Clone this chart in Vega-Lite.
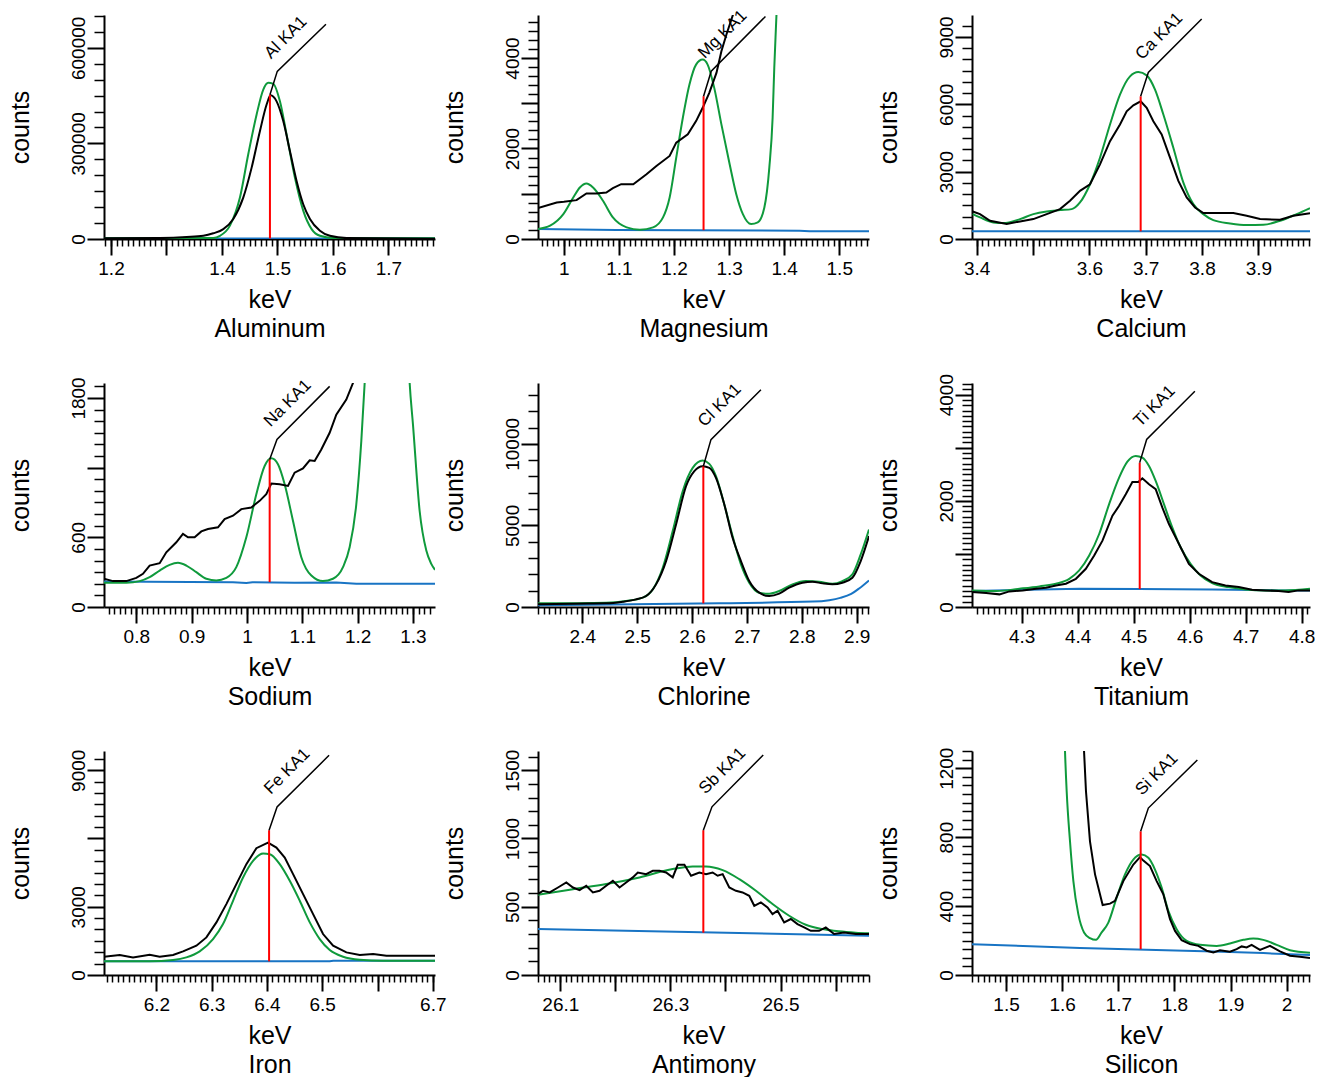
{
  "$schema": "https://vega.github.io/schema/vega-lite/v6.json",
  "description": "XRF peak fits, nine elements",
  "autosize": {"type": "pad"},
  "padding": {"left": 8, "top": 6, "right": 0, "bottom": 0},
  "background": "white",
  "columns": 3,
  "spacing": {"row": 144, "column": 96},
  "bounds": "flush",
  "align": "all",
  "datasets": {
    "al": [
      {"s":"b","e":1.1874,"c":1500},{"s":"b","e":1.784,"c":1500},
      {"s":"f","e":1.1874,"c":2000},{"s":"f","e":1.3844,"c":3000},{"s":"f","e":1.3964,"c":10000},{"s":"f","e":1.4144,"c":42000},{"s":"f","e":1.4324,"c":130000},{"s":"f","e":1.4474,"c":266000},{"s":"f","e":1.4625,"c":391000},{"s":"f","e":1.4745,"c":469000},{"s":"f","e":1.4835,"c":490000},{"s":"f","e":1.4925,"c":487000},{"s":"f","e":1.5045,"c":432000},{"s":"f","e":1.5165,"c":328000},{"s":"f","e":1.5315,"c":193000},{"s":"f","e":1.5465,"c":89000},{"s":"f","e":1.5616,"c":31000},{"s":"f","e":1.5766,"c":10000},{"s":"f","e":1.6006,"c":3000},{"s":"f","e":1.784,"c":2000},
      {"s":"m","e":1.1874,"c":2000},{"s":"m","e":1.2883,"c":3000},{"s":"m","e":1.3363,"c":6000},{"s":"m","e":1.3664,"c":10000},{"s":"m","e":1.3844,"c":18000},{"s":"m","e":1.4024,"c":31000},{"s":"m","e":1.4204,"c":63000},{"s":"m","e":1.4384,"c":130000},{"s":"m","e":1.4535,"c":224000},{"s":"m","e":1.4685,"c":339000},{"s":"m","e":1.4805,"c":422000},{"s":"m","e":1.4877,"c":451000},{"s":"m","e":1.4985,"c":432000},{"s":"m","e":1.5105,"c":370000},{"s":"m","e":1.5225,"c":276000},{"s":"m","e":1.5345,"c":182000},{"s":"m","e":1.5465,"c":109000},{"s":"m","e":1.5586,"c":63000},{"s":"m","e":1.5766,"c":26000},{"s":"m","e":1.5946,"c":10000},{"s":"m","e":1.6246,"c":3000},{"s":"m","e":1.784,"c":1000},
      {"s":"r","e":1.4865,"c":1500,"c2":453000},
      {"s":"a","e":1.4865,"c":453000},{"s":"a","e":1.4997,"c":526000},{"s":"a","e":1.5874,"c":674000},
      {"s":"t","e":1.4997,"c":526000,"lab":"Al KA1"}
    ],
    "mg": [
      {"s":"b","e":0.953,"c":220},{"s":"b","e":1.095,"c":198},{"s":"b","e":1.428,"c":183},{"s":"b","e":1.446,"c":169},{"s":"b","e":1.554,"c":169},
      {"s":"f","e":0.953,"c":220},{"s":"f","e":0.975,"c":294},{"s":"f","e":0.999,"c":550},{"s":"f","e":1.017,"c":917},{"s":"f","e":1.029,"c":1138},{"s":"f","e":1.041,"c":1226},{"s":"f","e":1.053,"c":1138},{"s":"f","e":1.071,"c":844},{"s":"f","e":1.089,"c":477},{"s":"f","e":1.114,"c":257},{"s":"f","e":1.138,"c":205},{"s":"f","e":1.162,"c":257},{"s":"f","e":1.18,"c":477},{"s":"f","e":1.192,"c":917},{"s":"f","e":1.204,"c":1798},{"s":"f","e":1.216,"c":2679},{"s":"f","e":1.228,"c":3413},{"s":"f","e":1.24,"c":3854},{"s":"f","e":1.252,"c":3964},{"s":"f","e":1.261,"c":3854},{"s":"f","e":1.273,"c":3340},{"s":"f","e":1.286,"c":2532},{"s":"f","e":1.301,"c":1652},{"s":"f","e":1.313,"c":991},{"s":"f","e":1.325,"c":550},{"s":"f","e":1.34,"c":330},{"s":"f","e":1.352,"c":367},{"s":"f","e":1.364,"c":697},{"s":"f","e":1.373,"c":1578},{"s":"f","e":1.379,"c":2679},{"s":"f","e":1.382,"c":3780},{"s":"f","e":1.386,"c":4955},{"s":"f","e":1.392,"c":7000},{"s":"f","e":1.41,"c":12000},{"s":"f","e":1.554,"c":12000},
      {"s":"m","e":0.953,"c":683},{"s":"m","e":0.987,"c":807},{"s":"m","e":1.0,"c":822},{"s":"m","e":1.023,"c":859},{"s":"m","e":1.041,"c":1005},{"s":"m","e":1.059,"c":1005},{"s":"m","e":1.077,"c":1028},{"s":"m","e":1.089,"c":1123},{"s":"m","e":1.104,"c":1211},{"s":"m","e":1.126,"c":1211},{"s":"m","e":1.15,"c":1431},{"s":"m","e":1.168,"c":1615},{"s":"m","e":1.192,"c":1835},{"s":"m","e":1.204,"c":2129},{"s":"m","e":1.225,"c":2312},{"s":"m","e":1.24,"c":2606},{"s":"m","e":1.252,"c":2899},{"s":"m","e":1.264,"c":3230},{"s":"m","e":1.277,"c":3670},{"s":"m","e":1.286,"c":4147},{"s":"m","e":1.295,"c":4514},{"s":"m","e":1.307,"c":4955},{"s":"m","e":1.33,"c":6500},{"s":"m","e":1.554,"c":12000},
      {"s":"r","e":1.2536,"c":195,"c2":3156},
      {"s":"a","e":1.2536,"c":3156},{"s":"a","e":1.2675,"c":3707},{"s":"a","e":1.366,"c":4918},
      {"s":"t","e":1.2675,"c":3707,"lab":"Mg KA1"}
    ],
    "ca": [
      {"s":"b","e":3.3917,"c":340},{"s":"b","e":3.9917,"c":340},
      {"s":"f","e":3.3929,"c":1108},{"s":"f","e":3.4059,"c":961},{"s":"f","e":3.4296,"c":739},{"s":"f","e":3.4473,"c":709},{"s":"f","e":3.4769,"c":887},{"s":"f","e":3.5006,"c":1108},{"s":"f","e":3.5243,"c":1227},{"s":"f","e":3.5479,"c":1286},{"s":"f","e":3.5686,"c":1330},{"s":"f","e":3.5834,"c":1626},{"s":"f","e":3.6012,"c":2439},{"s":"f","e":3.6189,"c":3621},{"s":"f","e":3.6367,"c":5099},{"s":"f","e":3.6544,"c":6429},{"s":"f","e":3.6722,"c":7242},{"s":"f","e":3.687,"c":7434},{"s":"f","e":3.7018,"c":7287},{"s":"f","e":3.7166,"c":6651},{"s":"f","e":3.7314,"c":5543},{"s":"f","e":3.7491,"c":4064},{"s":"f","e":3.7669,"c":2513},{"s":"f","e":3.7846,"c":1552},{"s":"f","e":3.8024,"c":1108},{"s":"f","e":3.8201,"c":842},{"s":"f","e":3.8497,"c":695},{"s":"f","e":3.8793,"c":621},{"s":"f","e":3.9089,"c":636},{"s":"f","e":3.9385,"c":813},{"s":"f","e":3.968,"c":1108},{"s":"f","e":3.9917,"c":1375},
      {"s":"m","e":3.3929,"c":1227},{"s":"m","e":3.4059,"c":1108},{"s":"m","e":3.4237,"c":813},{"s":"m","e":3.4533,"c":665},{"s":"m","e":3.4769,"c":783},{"s":"m","e":3.5006,"c":887},{"s":"m","e":3.5243,"c":1108},{"s":"m","e":3.5479,"c":1330},{"s":"m","e":3.5657,"c":1700},{"s":"m","e":3.5834,"c":2143},{"s":"m","e":3.6012,"c":2439},{"s":"m","e":3.6189,"c":3326},{"s":"m","e":3.6367,"c":4360},{"s":"m","e":3.6544,"c":5099},{"s":"m","e":3.6663,"c":5690},{"s":"m","e":3.6781,"c":5956},{"s":"m","e":3.6911,"c":6134},{"s":"m","e":3.7018,"c":5838},{"s":"m","e":3.7136,"c":5247},{"s":"m","e":3.7284,"c":4656},{"s":"m","e":3.7432,"c":3621},{"s":"m","e":3.758,"c":2587},{"s":"m","e":3.7728,"c":1848},{"s":"m","e":3.7876,"c":1404},{"s":"m","e":3.8024,"c":1153},{"s":"m","e":3.8201,"c":1153},{"s":"m","e":3.8556,"c":1153},{"s":"m","e":3.8793,"c":1035},{"s":"m","e":3.903,"c":887},{"s":"m","e":3.9385,"c":857},{"s":"m","e":3.9621,"c":1035},{"s":"m","e":3.9917,"c":1153},
      {"s":"r","e":3.6911,"c":340,"c2":6355},
      {"s":"a","e":3.6911,"c":6355},{"s":"a","e":3.7047,"c":7420},{"s":"a","e":3.7994,"c":9799},
      {"s":"t","e":3.7047,"c":7420,"lab":"Ca KA1"}
    ],
    "na": [
      {"s":"b","e":0.7416,"c":220},{"s":"b","e":0.9747,"c":214},{"s":"b","e":0.9988,"c":206},{"s":"b","e":1.01,"c":214},{"s":"b","e":1.0861,"c":209},{"s":"b","e":1.1614,"c":212},{"s":"b","e":1.1976,"c":200},{"s":"b","e":1.3398,"c":200},
      {"s":"f","e":0.7416,"c":209},{"s":"f","e":0.7819,"c":209},{"s":"f","e":0.806,"c":223},{"s":"f","e":0.8241,"c":257},{"s":"f","e":0.8422,"c":314},{"s":"f","e":0.8602,"c":363},{"s":"f","e":0.8753,"c":380},{"s":"f","e":0.8904,"c":357},{"s":"f","e":0.9084,"c":300},{"s":"f","e":0.9265,"c":243},{"s":"f","e":0.9446,"c":229},{"s":"f","e":0.9627,"c":251},{"s":"f","e":0.9807,"c":343},{"s":"f","e":0.9988,"c":600},{"s":"f","e":1.0169,"c":971},{"s":"f","e":1.0319,"c":1214},{"s":"f","e":1.044,"c":1280},{"s":"f","e":1.056,"c":1229},{"s":"f","e":1.0681,"c":1057},{"s":"f","e":1.0831,"c":743},{"s":"f","e":1.0982,"c":429},{"s":"f","e":1.1163,"c":271},{"s":"f","e":1.1373,"c":223},{"s":"f","e":1.1554,"c":243},{"s":"f","e":1.1735,"c":343},{"s":"f","e":1.1855,"c":514},{"s":"f","e":1.1976,"c":886},{"s":"f","e":1.2066,"c":1429},{"s":"f","e":1.2127,"c":1929},{"s":"f","e":1.22,"c":2700},{"s":"f","e":1.26,"c":9000},{"s":"f","e":1.287,"c":2700},{"s":"f","e":1.294,"c":1929},{"s":"f","e":1.3,"c":1571},{"s":"f","e":1.312,"c":829},{"s":"f","e":1.3241,"c":486},{"s":"f","e":1.3331,"c":371},{"s":"f","e":1.3398,"c":320},
      {"s":"m","e":0.7416,"c":243},{"s":"m","e":0.7578,"c":223},{"s":"m","e":0.7819,"c":223},{"s":"m","e":0.8,"c":251},{"s":"m","e":0.812,"c":286},{"s":"m","e":0.8241,"c":357},{"s":"m","e":0.8422,"c":377},{"s":"m","e":0.8542,"c":471},{"s":"m","e":0.8723,"c":557},{"s":"m","e":0.8843,"c":629},{"s":"m","e":0.8934,"c":600},{"s":"m","e":0.9054,"c":600},{"s":"m","e":0.9175,"c":651},{"s":"m","e":0.9295,"c":671},{"s":"m","e":0.9476,"c":686},{"s":"m","e":0.9596,"c":757},{"s":"m","e":0.9747,"c":786},{"s":"m","e":0.9898,"c":843},{"s":"m","e":1.0078,"c":857},{"s":"m","e":1.0229,"c":914},{"s":"m","e":1.0349,"c":971},{"s":"m","e":1.044,"c":1063},{"s":"m","e":1.059,"c":1057},{"s":"m","e":1.0741,"c":1043},{"s":"m","e":1.0861,"c":1157},{"s":"m","e":1.1012,"c":1194},{"s":"m","e":1.1133,"c":1263},{"s":"m","e":1.1223,"c":1257},{"s":"m","e":1.1343,"c":1357},{"s":"m","e":1.1494,"c":1500},{"s":"m","e":1.1614,"c":1657},{"s":"m","e":1.1795,"c":1786},{"s":"m","e":1.1916,"c":1929},{"s":"m","e":1.21,"c":2300},{"s":"m","e":1.3398,"c":4000},
      {"s":"r","e":1.041,"c":214,"c2":1271},
      {"s":"a","e":1.041,"c":1271},{"s":"a","e":1.0542,"c":1443},{"s":"a","e":1.1494,"c":1900},
      {"s":"t","e":1.0542,"c":1443,"lab":"Na KA1"}
    ],
    "cl": [
      {"s":"b","e":2.3194,"c":110},{"s":"b","e":2.46,"c":150},{"s":"b","e":2.65,"c":230},{"s":"b","e":2.82,"c":330},{"s":"b","e":2.85,"c":420},{"s":"b","e":2.87,"c":560},{"s":"b","e":2.89,"c":800},{"s":"b","e":2.905,"c":1150},{"s":"b","e":2.9224,"c":1630},
      {"s":"f","e":2.3194,"c":224},{"s":"f","e":2.4436,"c":265},{"s":"f","e":2.48,"c":367},{"s":"f","e":2.5103,"c":571},{"s":"f","e":2.5285,"c":1081},{"s":"f","e":2.5467,"c":2407},{"s":"f","e":2.5648,"c":4651},{"s":"f","e":2.583,"c":7099},{"s":"f","e":2.6012,"c":8527},{"s":"f","e":2.6194,"c":8976},{"s":"f","e":2.6315,"c":8772},{"s":"f","e":2.6436,"c":8017},{"s":"f","e":2.6588,"c":6283},{"s":"f","e":2.6739,"c":4345},{"s":"f","e":2.6891,"c":2611},{"s":"f","e":2.7042,"c":1489},{"s":"f","e":2.7224,"c":877},{"s":"f","e":2.7406,"c":816},{"s":"f","e":2.7588,"c":979},{"s":"f","e":2.783,"c":1387},{"s":"f","e":2.8073,"c":1591},{"s":"f","e":2.8315,"c":1550},{"s":"f","e":2.8558,"c":1428},{"s":"f","e":2.8739,"c":1591},{"s":"f","e":2.8921,"c":1999},{"s":"f","e":2.9073,"c":3223},{"s":"f","e":2.9224,"c":4753},
      {"s":"m","e":2.3194,"c":163},{"s":"m","e":2.383,"c":204},{"s":"m","e":2.4436,"c":224},{"s":"m","e":2.474,"c":326},{"s":"m","e":2.4982,"c":469},{"s":"m","e":2.5164,"c":673},{"s":"m","e":2.5345,"c":1387},{"s":"m","e":2.5527,"c":2815},{"s":"m","e":2.5709,"c":5059},{"s":"m","e":2.5891,"c":7405},{"s":"m","e":2.6042,"c":8323},{"s":"m","e":2.6194,"c":8629},{"s":"m","e":2.6315,"c":8527},{"s":"m","e":2.6436,"c":7915},{"s":"m","e":2.6588,"c":6283},{"s":"m","e":2.6739,"c":4243},{"s":"m","e":2.6891,"c":2815},{"s":"m","e":2.7042,"c":1591},{"s":"m","e":2.7224,"c":877},{"s":"m","e":2.7406,"c":673},{"s":"m","e":2.7588,"c":816},{"s":"m","e":2.777,"c":1183},{"s":"m","e":2.8012,"c":1489},{"s":"m","e":2.8194,"c":1550},{"s":"m","e":2.8376,"c":1448},{"s":"m","e":2.8558,"c":1387},{"s":"m","e":2.8739,"c":1489},{"s":"m","e":2.8921,"c":1795},{"s":"m","e":2.9073,"c":2815},{"s":"m","e":2.9224,"c":4345},
      {"s":"r","e":2.6206,"c":224,"c2":8629},
      {"s":"a","e":2.6206,"c":8629},{"s":"a","e":2.6345,"c":10261},{"s":"a","e":2.7255,"c":13321},
      {"s":"t","e":2.6345,"c":10261,"lab":"Cl KA1"}
    ],
    "ti": [
      {"s":"b","e":4.2112,"c":300},{"s":"b","e":4.4027,"c":344},{"s":"b","e":4.5095,"c":338},{"s":"b","e":4.6401,"c":331},{"s":"b","e":4.7588,"c":313},{"s":"b","e":4.8148,"c":313},
      {"s":"f","e":4.2112,"c":313},{"s":"f","e":4.2543,"c":300},{"s":"f","e":4.2958,"c":344},{"s":"f","e":4.3315,"c":388},{"s":"f","e":4.3611,"c":438},{"s":"f","e":4.3849,"c":531},{"s":"f","e":4.4027,"c":688},{"s":"f","e":4.4205,"c":969},{"s":"f","e":4.4383,"c":1375},{"s":"f","e":4.4561,"c":1938},{"s":"f","e":4.4739,"c":2438},{"s":"f","e":4.4887,"c":2738},{"s":"f","e":4.5036,"c":2844},{"s":"f","e":4.5154,"c":2813},{"s":"f","e":4.5273,"c":2656},{"s":"f","e":4.5392,"c":2375},{"s":"f","e":4.554,"c":1938},{"s":"f","e":4.5688,"c":1500},{"s":"f","e":4.5837,"c":1125},{"s":"f","e":4.6015,"c":813},{"s":"f","e":4.6193,"c":594},{"s":"f","e":4.6401,"c":450},{"s":"f","e":4.6697,"c":375},{"s":"f","e":4.6994,"c":331},{"s":"f","e":4.735,"c":313},{"s":"f","e":4.7706,"c":313},{"s":"f","e":4.8148,"c":344},
      {"s":"m","e":4.2112,"c":281},{"s":"m","e":4.2365,"c":263},{"s":"m","e":4.2602,"c":238},{"s":"m","e":4.278,"c":294},{"s":"m","e":4.3018,"c":313},{"s":"m","e":4.3255,"c":344},{"s":"m","e":4.3433,"c":363},{"s":"m","e":4.3611,"c":406},{"s":"m","e":4.3789,"c":438},{"s":"m","e":4.3967,"c":531},{"s":"m","e":4.4145,"c":719},{"s":"m","e":4.4294,"c":969},{"s":"m","e":4.4442,"c":1250},{"s":"m","e":4.462,"c":1719},{"s":"m","e":4.4739,"c":1906},{"s":"m","e":4.4858,"c":2125},{"s":"m","e":4.4976,"c":2356},{"s":"m","e":4.5083,"c":2356},{"s":"m","e":4.5154,"c":2425},{"s":"m","e":4.5273,"c":2313},{"s":"m","e":4.5392,"c":2219},{"s":"m","e":4.551,"c":1875},{"s":"m","e":4.5629,"c":1563},{"s":"m","e":4.5748,"c":1313},{"s":"m","e":4.5866,"c":1063},{"s":"m","e":4.5985,"c":813},{"s":"m","e":4.6163,"c":625},{"s":"m","e":4.6401,"c":469},{"s":"m","e":4.6638,"c":406},{"s":"m","e":4.6875,"c":375},{"s":"m","e":4.7113,"c":325},{"s":"m","e":4.735,"c":313},{"s":"m","e":4.7588,"c":300},{"s":"m","e":4.7766,"c":281},{"s":"m","e":4.7944,"c":313},{"s":"m","e":4.8148,"c":313},
      {"s":"r","e":4.5107,"c":338,"c2":2719},
      {"s":"a","e":4.5107,"c":2719},{"s":"a","e":4.5231,"c":3156},{"s":"a","e":4.6092,"c":4063},
      {"s":"t","e":4.5231,"c":3156,"lab":"Ti KA1"}
    ],
    "fe": [
      {"s":"b","e":6.1053,"c":600},{"s":"b","e":6.5136,"c":600},{"s":"b","e":6.52,"c":629},{"s":"b","e":6.704,"c":629},
      {"s":"f","e":6.1053,"c":600},{"s":"f","e":6.1879,"c":600},{"s":"f","e":6.2302,"c":658},{"s":"f","e":6.2543,"c":775},{"s":"f","e":6.2784,"c":1039},{"s":"f","e":6.3025,"c":1580},{"s":"f","e":6.3206,"c":2238},{"s":"f","e":6.3387,"c":3262},{"s":"f","e":6.3568,"c":4287},{"s":"f","e":6.3749,"c":5018},{"s":"f","e":6.393,"c":5340},{"s":"f","e":6.4051,"c":5311},{"s":"f","e":6.4232,"c":4872},{"s":"f","e":6.4413,"c":4140},{"s":"f","e":6.4594,"c":3262},{"s":"f","e":6.4775,"c":2312},{"s":"f","e":6.4955,"c":1580},{"s":"f","e":6.5136,"c":1097},{"s":"f","e":6.5377,"c":805},{"s":"f","e":6.5679,"c":673},{"s":"f","e":6.6101,"c":629},{"s":"f","e":6.704,"c":629},
      {"s":"m","e":6.1053,"c":805},{"s":"m","e":6.1337,"c":878},{"s":"m","e":6.1578,"c":775},{"s":"m","e":6.1879,"c":892},{"s":"m","e":6.206,"c":805},{"s":"m","e":6.2302,"c":878},{"s":"m","e":6.2483,"c":1039},{"s":"m","e":6.2724,"c":1287},{"s":"m","e":6.2905,"c":1653},{"s":"m","e":6.3086,"c":2312},{"s":"m","e":6.3266,"c":3116},{"s":"m","e":6.3447,"c":3994},{"s":"m","e":6.3628,"c":4872},{"s":"m","e":6.3809,"c":5574},{"s":"m","e":6.402,"c":5823},{"s":"m","e":6.4171,"c":5603},{"s":"m","e":6.4322,"c":5164},{"s":"m","e":6.4473,"c":4433},{"s":"m","e":6.4654,"c":3555},{"s":"m","e":6.4835,"c":2677},{"s":"m","e":6.5015,"c":1800},{"s":"m","e":6.5197,"c":1287},{"s":"m","e":6.5438,"c":995},{"s":"m","e":6.5679,"c":878},{"s":"m","e":6.5921,"c":922},{"s":"m","e":6.6162,"c":849},{"s":"m","e":6.6403,"c":849},{"s":"m","e":6.6704,"c":849},{"s":"m","e":6.704,"c":849},
      {"s":"r","e":6.4039,"c":600,"c2":6364},
      {"s":"a","e":6.4039,"c":6364},{"s":"a","e":6.4183,"c":7388},{"s":"a","e":6.5124,"c":9656},
      {"s":"t","e":6.4183,"c":7388,"lab":"Fe KA1"}
    ],
    "sb": [
      {"s":"b","e":26.0595,"c":337},{"s":"b","e":26.6607,"c":288},
      {"s":"f","e":26.0595,"c":588},{"s":"f","e":26.123,"c":629},{"s":"f","e":26.1834,"c":666},{"s":"f","e":26.2438,"c":715},{"s":"f","e":26.3042,"c":776},{"s":"f","e":26.3405,"c":795},{"s":"f","e":26.3647,"c":795},{"s":"f","e":26.3949,"c":768},{"s":"f","e":26.4251,"c":702},{"s":"f","e":26.4553,"c":617},{"s":"f","e":26.4855,"c":520},{"s":"f","e":26.5157,"c":434},{"s":"f","e":26.5459,"c":368},{"s":"f","e":26.576,"c":337},{"s":"f","e":26.6063,"c":320},{"s":"f","e":26.6366,"c":310},{"s":"f","e":26.6607,"c":305},
      {"s":"m","e":26.0595,"c":593},{"s":"m","e":26.0686,"c":617},{"s":"m","e":26.0807,"c":605},{"s":"m","e":26.0958,"c":641},{"s":"m","e":26.1109,"c":678},{"s":"m","e":26.123,"c":641},{"s":"m","e":26.135,"c":622},{"s":"m","e":26.1471,"c":654},{"s":"m","e":26.1592,"c":605},{"s":"m","e":26.1713,"c":617},{"s":"m","e":26.1834,"c":654},{"s":"m","e":26.1955,"c":690},{"s":"m","e":26.2076,"c":641},{"s":"m","e":26.2196,"c":678},{"s":"m","e":26.2317,"c":715},{"s":"m","e":26.2408,"c":751},{"s":"m","e":26.2559,"c":739},{"s":"m","e":26.268,"c":763},{"s":"m","e":26.2801,"c":763},{"s":"m","e":26.2921,"c":751},{"s":"m","e":26.3042,"c":715},{"s":"m","e":26.3133,"c":807},{"s":"m","e":26.3254,"c":807},{"s":"m","e":26.3375,"c":727},{"s":"m","e":26.3526,"c":751},{"s":"m","e":26.3647,"c":739},{"s":"m","e":26.3767,"c":751},{"s":"m","e":26.3858,"c":727},{"s":"m","e":26.3949,"c":739},{"s":"m","e":26.4069,"c":641},{"s":"m","e":26.419,"c":617},{"s":"m","e":26.4311,"c":605},{"s":"m","e":26.4432,"c":580},{"s":"m","e":26.4523,"c":507},{"s":"m","e":26.4643,"c":532},{"s":"m","e":26.4764,"c":495},{"s":"m","e":26.4855,"c":446},{"s":"m","e":26.4946,"c":471},{"s":"m","e":26.5066,"c":385},{"s":"m","e":26.5187,"c":410},{"s":"m","e":26.5308,"c":373},{"s":"m","e":26.5429,"c":349},{"s":"m","e":26.555,"c":324},{"s":"m","e":26.5701,"c":324},{"s":"m","e":26.5822,"c":349},{"s":"m","e":26.5973,"c":300},{"s":"m","e":26.6154,"c":312},{"s":"m","e":26.6366,"c":300},{"s":"m","e":26.6607,"c":300},
      {"s":"r","e":26.3598,"c":310,"c2":1061},
      {"s":"a","e":26.3598,"c":1061},{"s":"a","e":26.3755,"c":1232},{"s":"a","e":26.4686,"c":1612},
      {"s":"t","e":26.3755,"c":1232,"lab":"Sb KA1"}
    ],
    "si": [
      {"s":"b","e":1.4394,"c":179},{"s":"b","e":1.6318,"c":156},{"s":"b","e":1.7506,"c":146},{"s":"b","e":1.8694,"c":137},{"s":"b","e":1.9584,"c":127},{"s":"b","e":2.0416,"c":116},
      {"s":"f","e":1.5992,"c":2124},{"s":"f","e":1.6051,"c":1300},{"s":"f","e":1.6081,"c":1065},{"s":"f","e":1.614,"c":776},{"s":"f","e":1.62,"c":545},{"s":"f","e":1.6289,"c":352},{"s":"f","e":1.639,"c":247},{"s":"f","e":1.6496,"c":214},{"s":"f","e":1.6603,"c":204},{"s":"f","e":1.6704,"c":247},{"s":"f","e":1.6823,"c":304},{"s":"f","e":1.6971,"c":449},{"s":"f","e":1.712,"c":584},{"s":"f","e":1.7268,"c":670},{"s":"f","e":1.7417,"c":699},{"s":"f","e":1.7536,"c":680},{"s":"f","e":1.7654,"c":612},{"s":"f","e":1.7773,"c":507},{"s":"f","e":1.7892,"c":372},{"s":"f","e":1.804,"c":266},{"s":"f","e":1.8219,"c":198},{"s":"f","e":1.8456,"c":175},{"s":"f","e":1.8753,"c":169},{"s":"f","e":1.899,"c":183},{"s":"f","e":1.9228,"c":204},{"s":"f","e":1.9406,"c":212},{"s":"f","e":1.9584,"c":204},{"s":"f","e":1.9822,"c":175},{"s":"f","e":2.0059,"c":144},{"s":"f","e":2.0416,"c":129},
      {"s":"m","e":1.6366,"c":1739},{"s":"m","e":1.639,"c":1300},{"s":"m","e":1.6425,"c":1065},{"s":"m","e":1.6496,"c":776},{"s":"m","e":1.6586,"c":584},{"s":"m","e":1.6722,"c":406},{"s":"m","e":1.6853,"c":414},{"s":"m","e":1.6942,"c":430},{"s":"m","e":1.709,"c":545},{"s":"m","e":1.7268,"c":641},{"s":"m","e":1.7387,"c":684},{"s":"m","e":1.7447,"c":664},{"s":"m","e":1.7565,"c":632},{"s":"m","e":1.7684,"c":545},{"s":"m","e":1.7803,"c":468},{"s":"m","e":1.7922,"c":324},{"s":"m","e":1.8011,"c":256},{"s":"m","e":1.8129,"c":202},{"s":"m","e":1.8278,"c":179},{"s":"m","e":1.8426,"c":169},{"s":"m","e":1.8575,"c":141},{"s":"m","e":1.8694,"c":131},{"s":"m","e":1.8812,"c":144},{"s":"m","e":1.899,"c":135},{"s":"m","e":1.9109,"c":150},{"s":"m","e":1.9198,"c":166},{"s":"m","e":1.9287,"c":160},{"s":"m","e":1.9376,"c":175},{"s":"m","e":1.9525,"c":146},{"s":"m","e":1.9703,"c":169},{"s":"m","e":1.9881,"c":137},{"s":"m","e":2.0059,"c":112},{"s":"m","e":2.0238,"c":106},{"s":"m","e":2.0416,"c":98},
      {"s":"r","e":1.7399,"c":150,"c2":834},
      {"s":"a","e":1.7399,"c":834},{"s":"a","e":1.7536,"c":969},{"s":"a","e":1.8409,"c":1248},
      {"s":"t","e":1.7536,"c":969,"lab":"Si KA1"}
    ]
  },
  "concat": [
    {
      "width": 331, "height": 224,
      "data": {"name": "al"},
      "encoding": {
        "x": {"field": "e", "type": "quantitative", "scale": {"domain": [1.1874, 1.784], "nice": false, "zero": false}, "axis": null},
        "y": {"field": "c", "type": "quantitative", "scale": {"domain": [0, 703000], "nice": false, "zero": false}, "axis": null}
      },
      "layer": [
        {"transform": [{"filter": "datum.s == 'b'"}], "mark": {"type": "line", "color": "#1874c4", "strokeWidth": 2, "clip": true},
         "encoding": {
           "x": {"field": "e", "type": "quantitative", "scale": {"domain": [1.1874, 1.784], "nice": false, "zero": false},
                 "axis": {"title": ["keV", "Aluminum"], "values": [1.2, 1.3, 1.4, 1.5, 1.6, 1.7], "format": "~g", "labelExpr": "datum.value == 1.3 ? '' : datum.label"}},
           "y": {"field": "c", "type": "quantitative", "scale": {"domain": [0, 703000], "nice": false, "zero": false},
                 "axis": {"title": "counts", "values": [0, 300000, 600000], "format": "d"}}}},
        {"transform": [{"filter": "datum.s == 'f'"}], "mark": {"type": "line", "color": "#0f9a3c", "strokeWidth": 2, "interpolate": "monotone", "clip": true},
         "encoding": {
           "x": {"field": "e", "type": "quantitative", "scale": {"domain": [1.1874, 1.784], "nice": false, "zero": false},
                 "axis": {"orient": "bottom", "title": null, "tickCount": 60, "labels": false, "domain": false, "tickSize": 7, "tickWidth": 1.5}},
           "y": {"field": "c", "type": "quantitative", "scale": {"domain": [0, 703000], "nice": false, "zero": false},
                 "axis": {"orient": "left", "title": null, "values": [50000, 100000, 150000, 200000, 250000, 350000, 400000, 450000, 500000, 550000, 650000, 700000], "labels": false, "domain": false, "tickSize": 10, "tickWidth": 1.5}}}},
        {"transform": [{"filter": "datum.s == 'm'"}], "mark": {"type": "line", "color": "#000", "strokeWidth": 2, "interpolate": "monotone", "clip": true}},
        {"transform": [{"filter": "datum.s == 'r'"}], "mark": {"type": "rule", "color": "#ff0000", "strokeWidth": 2}, "encoding": {"y2": {"field": "c2"}}},
        {"transform": [{"filter": "datum.s == 'a'"}], "mark": {"type": "line", "color": "#000", "strokeWidth": 1.5}},
        {"transform": [{"filter": "datum.s == 't'"}], "mark": {"type": "text", "angle": 315, "align": "left", "baseline": "alphabetic", "dx": 4, "dy": -13, "fontSize": 17, "font": "Liberation Sans", "color": "#000"}, "encoding": {"text": {"field": "lab"}}}
      ],
      "resolve": {"axis": {"x": "independent", "y": "independent"}}
    },
    {
      "width": 331, "height": 224,
      "data": {"name": "mg"},
      "encoding": {
        "x": {"field": "e", "type": "quantitative", "scale": {"domain": [0.953, 1.554], "nice": false, "zero": false}, "axis": null},
        "y": {"field": "c", "type": "quantitative", "scale": {"domain": [0, 4950], "nice": false, "zero": false}, "axis": null}
      },
      "layer": [
        {"transform": [{"filter": "datum.s == 'b'"}], "mark": {"type": "line", "color": "#1874c4", "strokeWidth": 2, "clip": true},
         "encoding": {
           "x": {"field": "e", "type": "quantitative", "scale": {"domain": [0.953, 1.554], "nice": false, "zero": false},
                 "axis": {"title": ["keV", "Magnesium"], "values": [1, 1.1, 1.2, 1.3, 1.4, 1.5], "format": "~g"}},
           "y": {"field": "c", "type": "quantitative", "scale": {"domain": [0, 4950], "nice": false, "zero": false},
                 "axis": {"title": "counts", "values": [0, 1000, 2000, 3000, 4000], "format": "d", "labelExpr": "datum.value == 1000 || datum.value == 3000 ? '' : datum.label"}}}},
        {"transform": [{"filter": "datum.s == 'f'"}], "mark": {"type": "line", "color": "#0f9a3c", "strokeWidth": 2, "interpolate": "monotone", "clip": true},
         "encoding": {
           "x": {"field": "e", "type": "quantitative", "scale": {"domain": [0.953, 1.554], "nice": false, "zero": false},
                 "axis": {"orient": "bottom", "title": null, "tickCount": 60, "labels": false, "domain": false, "tickSize": 7, "tickWidth": 1.5}},
           "y": {"field": "c", "type": "quantitative", "scale": {"domain": [0, 4950], "nice": false, "zero": false},
                 "axis": {"orient": "left", "title": null, "values": [200, 400, 600, 800, 1200, 1400, 1600, 1800, 2200, 2400, 2600, 2800, 3200, 3400, 3600, 3800, 4200, 4400, 4600, 4800], "labels": false, "domain": false, "tickSize": 10, "tickWidth": 1.5}}}},
        {"transform": [{"filter": "datum.s == 'm'"}], "mark": {"type": "line", "color": "#000", "strokeWidth": 2, "clip": true}},
        {"transform": [{"filter": "datum.s == 'r'"}], "mark": {"type": "rule", "color": "#ff0000", "strokeWidth": 2}, "encoding": {"y2": {"field": "c2"}}},
        {"transform": [{"filter": "datum.s == 'a'"}], "mark": {"type": "line", "color": "#000", "strokeWidth": 1.5}},
        {"transform": [{"filter": "datum.s == 't'"}], "mark": {"type": "text", "angle": 315, "align": "left", "baseline": "alphabetic", "dx": 4, "dy": -13, "fontSize": 17, "font": "Liberation Sans", "color": "#000"}, "encoding": {"text": {"field": "lab"}}}
      ],
      "resolve": {"axis": {"x": "independent", "y": "independent"}}
    },
    {
      "width": 338, "height": 224,
      "data": {"name": "ca"},
      "encoding": {
        "x": {"field": "e", "type": "quantitative", "scale": {"domain": [3.3917, 3.9917], "nice": false, "zero": false}, "axis": null},
        "y": {"field": "c", "type": "quantitative", "scale": {"domain": [0, 9977], "nice": false, "zero": false}, "axis": null}
      },
      "layer": [
        {"transform": [{"filter": "datum.s == 'b'"}], "mark": {"type": "line", "color": "#1874c4", "strokeWidth": 2, "clip": true},
         "encoding": {
           "x": {"field": "e", "type": "quantitative", "scale": {"domain": [3.3917, 3.9917], "nice": false, "zero": false},
                 "axis": {"title": ["keV", "Calcium"], "values": [3.4, 3.5, 3.6, 3.7, 3.8, 3.9], "format": "~g", "labelExpr": "datum.value == 3.5 ? '' : datum.label"}},
           "y": {"field": "c", "type": "quantitative", "scale": {"domain": [0, 9977], "nice": false, "zero": false},
                 "axis": {"title": "counts", "values": [0, 3000, 6000, 9000], "format": "d"}}}},
        {"transform": [{"filter": "datum.s == 'f'"}], "mark": {"type": "line", "color": "#0f9a3c", "strokeWidth": 2, "interpolate": "monotone", "clip": true},
         "encoding": {
           "x": {"field": "e", "type": "quantitative", "scale": {"domain": [3.3917, 3.9917], "nice": false, "zero": false},
                 "axis": {"orient": "bottom", "title": null, "tickCount": 60, "labels": false, "domain": false, "tickSize": 7, "tickWidth": 1.5}},
           "y": {"field": "c", "type": "quantitative", "scale": {"domain": [0, 9977], "nice": false, "zero": false},
                 "axis": {"orient": "left", "title": null, "values": [500, 1000, 1500, 2000, 2500, 3500, 4000, 4500, 5000, 5500, 6500, 7000, 7500, 8000, 8500, 9500], "labels": false, "domain": false, "tickSize": 10, "tickWidth": 1.5}}}},
        {"transform": [{"filter": "datum.s == 'm'"}], "mark": {"type": "line", "color": "#000", "strokeWidth": 2, "clip": true}},
        {"transform": [{"filter": "datum.s == 'r'"}], "mark": {"type": "rule", "color": "#ff0000", "strokeWidth": 2}, "encoding": {"y2": {"field": "c2"}}},
        {"transform": [{"filter": "datum.s == 'a'"}], "mark": {"type": "line", "color": "#000", "strokeWidth": 1.5}},
        {"transform": [{"filter": "datum.s == 't'"}], "mark": {"type": "text", "angle": 315, "align": "left", "baseline": "alphabetic", "dx": 4, "dy": -13, "fontSize": 17, "font": "Liberation Sans", "color": "#000"}, "encoding": {"text": {"field": "lab"}}}
      ],
      "resolve": {"axis": {"x": "independent", "y": "independent"}}
    },
    {
      "width": 331, "height": 224,
      "data": {"name": "na"},
      "encoding": {
        "x": {"field": "e", "type": "quantitative", "scale": {"domain": [0.7416, 1.3398], "nice": false, "zero": false}, "axis": null},
        "y": {"field": "c", "type": "quantitative", "scale": {"domain": [0, 1929], "nice": false, "zero": false}, "axis": null}
      },
      "layer": [
        {"transform": [{"filter": "datum.s == 'b'"}], "mark": {"type": "line", "color": "#1874c4", "strokeWidth": 2, "clip": true},
         "encoding": {
           "x": {"field": "e", "type": "quantitative", "scale": {"domain": [0.7416, 1.3398], "nice": false, "zero": false},
                 "axis": {"title": ["keV", "Sodium"], "values": [0.8, 0.9, 1, 1.1, 1.2, 1.3], "format": "~g"}},
           "y": {"field": "c", "type": "quantitative", "scale": {"domain": [0, 1929], "nice": false, "zero": false},
                 "axis": {"title": "counts", "values": [0, 600, 1200, 1800], "format": "d", "labelExpr": "datum.value == 1200 ? '' : datum.label"}}}},
        {"transform": [{"filter": "datum.s == 'f'"}], "mark": {"type": "line", "color": "#0f9a3c", "strokeWidth": 2, "interpolate": "monotone", "clip": true},
         "encoding": {
           "x": {"field": "e", "type": "quantitative", "scale": {"domain": [0.7416, 1.3398], "nice": false, "zero": false},
                 "axis": {"orient": "bottom", "title": null, "tickCount": 60, "labels": false, "domain": false, "tickSize": 7, "tickWidth": 1.5}},
           "y": {"field": "c", "type": "quantitative", "scale": {"domain": [0, 1929], "nice": false, "zero": false},
                 "axis": {"orient": "left", "title": null, "values": [100, 200, 300, 400, 500, 700, 800, 900, 1000, 1100, 1300, 1400, 1500, 1600, 1700, 1900], "labels": false, "domain": false, "tickSize": 10, "tickWidth": 1.5}}}},
        {"transform": [{"filter": "datum.s == 'm'"}], "mark": {"type": "line", "color": "#000", "strokeWidth": 2, "clip": true}},
        {"transform": [{"filter": "datum.s == 'r'"}], "mark": {"type": "rule", "color": "#ff0000", "strokeWidth": 2}, "encoding": {"y2": {"field": "c2"}}},
        {"transform": [{"filter": "datum.s == 'a'"}], "mark": {"type": "line", "color": "#000", "strokeWidth": 1.5}},
        {"transform": [{"filter": "datum.s == 't'"}], "mark": {"type": "text", "angle": 315, "align": "left", "baseline": "alphabetic", "dx": 4, "dy": -13, "fontSize": 17, "font": "Liberation Sans", "color": "#000"}, "encoding": {"text": {"field": "lab"}}}
      ],
      "resolve": {"axis": {"x": "independent", "y": "independent"}}
    },
    {
      "width": 331, "height": 224,
      "data": {"name": "cl"},
      "encoding": {
        "x": {"field": "e", "type": "quantitative", "scale": {"domain": [2.3194, 2.9224], "nice": false, "zero": false}, "axis": null},
        "y": {"field": "c", "type": "quantitative", "scale": {"domain": [0, 13730], "nice": false, "zero": false}, "axis": null}
      },
      "layer": [
        {"transform": [{"filter": "datum.s == 'b'"}], "mark": {"type": "line", "color": "#1874c4", "strokeWidth": 2, "interpolate": "monotone", "clip": true},
         "encoding": {
           "x": {"field": "e", "type": "quantitative", "scale": {"domain": [2.3194, 2.9224], "nice": false, "zero": false},
                 "axis": {"title": ["keV", "Chlorine"], "values": [2.4, 2.5, 2.6, 2.7, 2.8, 2.9], "format": "~g"}},
           "y": {"field": "c", "type": "quantitative", "scale": {"domain": [0, 13730], "nice": false, "zero": false},
                 "axis": {"title": "counts", "values": [0, 5000, 10000], "format": "d"}}}},
        {"transform": [{"filter": "datum.s == 'f'"}], "mark": {"type": "line", "color": "#0f9a3c", "strokeWidth": 2, "interpolate": "monotone", "clip": true},
         "encoding": {
           "x": {"field": "e", "type": "quantitative", "scale": {"domain": [2.3194, 2.9224], "nice": false, "zero": false},
                 "axis": {"orient": "bottom", "title": null, "tickCount": 60, "labels": false, "domain": false, "tickSize": 7, "tickWidth": 1.5}},
           "y": {"field": "c", "type": "quantitative", "scale": {"domain": [0, 13730], "nice": false, "zero": false},
                 "axis": {"orient": "left", "title": null, "values": [1000, 2000, 3000, 4000, 6000, 7000, 8000, 9000, 11000, 12000, 13000], "labels": false, "domain": false, "tickSize": 10, "tickWidth": 1.5}}}},
        {"transform": [{"filter": "datum.s == 'm'"}], "mark": {"type": "line", "color": "#000", "strokeWidth": 2, "interpolate": "monotone", "clip": true}},
        {"transform": [{"filter": "datum.s == 'r'"}], "mark": {"type": "rule", "color": "#ff0000", "strokeWidth": 2}, "encoding": {"y2": {"field": "c2"}}},
        {"transform": [{"filter": "datum.s == 'a'"}], "mark": {"type": "line", "color": "#000", "strokeWidth": 1.5}},
        {"transform": [{"filter": "datum.s == 't'"}], "mark": {"type": "text", "angle": 315, "align": "left", "baseline": "alphabetic", "dx": 4, "dy": -13, "fontSize": 17, "font": "Liberation Sans", "color": "#000"}, "encoding": {"text": {"field": "lab"}}}
      ],
      "resolve": {"axis": {"x": "independent", "y": "independent"}}
    },
    {
      "width": 338, "height": 224,
      "data": {"name": "ti"},
      "encoding": {
        "x": {"field": "e", "type": "quantitative", "scale": {"domain": [4.2112, 4.8148], "nice": false, "zero": false}, "axis": null},
        "y": {"field": "c", "type": "quantitative", "scale": {"domain": [0, 4219], "nice": false, "zero": false}, "axis": null}
      },
      "layer": [
        {"transform": [{"filter": "datum.s == 'b'"}], "mark": {"type": "line", "color": "#1874c4", "strokeWidth": 2, "clip": true},
         "encoding": {
           "x": {"field": "e", "type": "quantitative", "scale": {"domain": [4.2112, 4.8148], "nice": false, "zero": false},
                 "axis": {"title": ["keV", "Titanium"], "values": [4.3, 4.4, 4.5, 4.6, 4.7, 4.8], "format": "~g"}},
           "y": {"field": "c", "type": "quantitative", "scale": {"domain": [0, 4219], "nice": false, "zero": false},
                 "axis": {"title": "counts", "values": [0, 1000, 2000, 3000, 4000], "format": "d", "labelExpr": "datum.value == 1000 || datum.value == 3000 ? '' : datum.label"}}}},
        {"transform": [{"filter": "datum.s == 'f'"}], "mark": {"type": "line", "color": "#0f9a3c", "strokeWidth": 2, "interpolate": "monotone", "clip": true},
         "encoding": {
           "x": {"field": "e", "type": "quantitative", "scale": {"domain": [4.2112, 4.8148], "nice": false, "zero": false},
                 "axis": {"orient": "bottom", "title": null, "tickCount": 60, "labels": false, "domain": false, "tickSize": 7, "tickWidth": 1.5}},
           "y": {"field": "c", "type": "quantitative", "scale": {"domain": [0, 4219], "nice": false, "zero": false},
                 "axis": {"orient": "left", "title": null, "values": [100, 200, 300, 400, 500, 600, 700, 800, 900, 1100, 1200, 1300, 1400, 1500, 1600, 1700, 1800, 1900, 2100, 2200, 2300, 2400, 2500, 2600, 2700, 2800, 2900, 3100, 3200, 3300, 3400, 3500, 3600, 3700, 3800, 3900, 4100, 4200], "labels": false, "domain": false, "tickSize": 10, "tickWidth": 1.5}}}},
        {"transform": [{"filter": "datum.s == 'm'"}], "mark": {"type": "line", "color": "#000", "strokeWidth": 2, "clip": true}},
        {"transform": [{"filter": "datum.s == 'r'"}], "mark": {"type": "rule", "color": "#ff0000", "strokeWidth": 2}, "encoding": {"y2": {"field": "c2"}}},
        {"transform": [{"filter": "datum.s == 'a'"}], "mark": {"type": "line", "color": "#000", "strokeWidth": 1.5}},
        {"transform": [{"filter": "datum.s == 't'"}], "mark": {"type": "text", "angle": 315, "align": "left", "baseline": "alphabetic", "dx": 4, "dy": -13, "fontSize": 17, "font": "Liberation Sans", "color": "#000"}, "encoding": {"text": {"field": "lab"}}}
      ],
      "resolve": {"axis": {"x": "independent", "y": "independent"}}
    },
    {
      "width": 331, "height": 224,
      "data": {"name": "fe"},
      "encoding": {
        "x": {"field": "e", "type": "quantitative", "scale": {"domain": [6.1053, 6.704], "nice": false, "zero": false}, "axis": null},
        "y": {"field": "c", "type": "quantitative", "scale": {"domain": [0, 9846], "nice": false, "zero": false}, "axis": null}
      },
      "layer": [
        {"transform": [{"filter": "datum.s == 'b'"}], "mark": {"type": "line", "color": "#1874c4", "strokeWidth": 2, "clip": true},
         "encoding": {
           "x": {"field": "e", "type": "quantitative", "scale": {"domain": [6.1053, 6.704], "nice": false, "zero": false},
                 "axis": {"title": ["keV", "Iron"], "values": [6.2, 6.3, 6.4, 6.5, 6.6, 6.7], "format": "~g", "labelExpr": "datum.value == 6.6 ? '' : datum.label"}},
           "y": {"field": "c", "type": "quantitative", "scale": {"domain": [0, 9846], "nice": false, "zero": false},
                 "axis": {"title": "counts", "values": [0, 3000, 6000, 9000], "format": "d", "labelExpr": "datum.value == 6000 ? '' : datum.label"}}}},
        {"transform": [{"filter": "datum.s == 'f'"}], "mark": {"type": "line", "color": "#0f9a3c", "strokeWidth": 2, "interpolate": "monotone", "clip": true},
         "encoding": {
           "x": {"field": "e", "type": "quantitative", "scale": {"domain": [6.1053, 6.704], "nice": false, "zero": false},
                 "axis": {"orient": "bottom", "title": null, "tickCount": 60, "labels": false, "domain": false, "tickSize": 7, "tickWidth": 1.5}},
           "y": {"field": "c", "type": "quantitative", "scale": {"domain": [0, 9846], "nice": false, "zero": false},
                 "axis": {"orient": "left", "title": null, "values": [500, 1000, 1500, 2000, 2500, 3500, 4000, 4500, 5000, 5500, 6500, 7000, 7500, 8000, 8500, 9500], "labels": false, "domain": false, "tickSize": 10, "tickWidth": 1.5}}}},
        {"transform": [{"filter": "datum.s == 'm'"}], "mark": {"type": "line", "color": "#000", "strokeWidth": 2, "clip": true}},
        {"transform": [{"filter": "datum.s == 'r'"}], "mark": {"type": "rule", "color": "#ff0000", "strokeWidth": 2}, "encoding": {"y2": {"field": "c2"}}},
        {"transform": [{"filter": "datum.s == 'a'"}], "mark": {"type": "line", "color": "#000", "strokeWidth": 1.5}},
        {"transform": [{"filter": "datum.s == 't'"}], "mark": {"type": "text", "angle": 315, "align": "left", "baseline": "alphabetic", "dx": 4, "dy": -13, "fontSize": 17, "font": "Liberation Sans", "color": "#000"}, "encoding": {"text": {"field": "lab"}}}
      ],
      "resolve": {"axis": {"x": "independent", "y": "independent"}}
    },
    {
      "width": 331, "height": 224,
      "data": {"name": "sb"},
      "encoding": {
        "x": {"field": "e", "type": "quantitative", "scale": {"domain": [26.0595, 26.6607], "nice": false, "zero": false}, "axis": null},
        "y": {"field": "c", "type": "quantitative", "scale": {"domain": [0, 1641], "nice": false, "zero": false}, "axis": null}
      },
      "layer": [
        {"transform": [{"filter": "datum.s == 'b'"}], "mark": {"type": "line", "color": "#1874c4", "strokeWidth": 2, "clip": true},
         "encoding": {
           "x": {"field": "e", "type": "quantitative", "scale": {"domain": [26.0595, 26.6607], "nice": false, "zero": false},
                 "axis": {"title": ["keV", "Antimony"], "values": [26.1, 26.2, 26.3, 26.4, 26.5, 26.6], "format": "~g", "labelExpr": "datum.value == 26.2 || datum.value == 26.4 || datum.value == 26.6 ? '' : datum.label"}},
           "y": {"field": "c", "type": "quantitative", "scale": {"domain": [0, 1641], "nice": false, "zero": false},
                 "axis": {"title": "counts", "values": [0, 500, 1000, 1500], "format": "d"}}}},
        {"transform": [{"filter": "datum.s == 'f'"}], "mark": {"type": "line", "color": "#0f9a3c", "strokeWidth": 2, "interpolate": "monotone", "clip": true},
         "encoding": {
           "x": {"field": "e", "type": "quantitative", "scale": {"domain": [26.0595, 26.6607], "nice": false, "zero": false},
                 "axis": {"orient": "bottom", "title": null, "tickCount": 60, "labels": false, "domain": false, "tickSize": 7, "tickWidth": 1.5}},
           "y": {"field": "c", "type": "quantitative", "scale": {"domain": [0, 1641], "nice": false, "zero": false},
                 "axis": {"orient": "left", "title": null, "values": [100, 200, 300, 400, 600, 700, 800, 900, 1100, 1200, 1300, 1400, 1600], "labels": false, "domain": false, "tickSize": 10, "tickWidth": 1.5}}}},
        {"transform": [{"filter": "datum.s == 'm'"}], "mark": {"type": "line", "color": "#000", "strokeWidth": 2, "clip": true}},
        {"transform": [{"filter": "datum.s == 'r'"}], "mark": {"type": "rule", "color": "#ff0000", "strokeWidth": 2}, "encoding": {"y2": {"field": "c2"}}},
        {"transform": [{"filter": "datum.s == 'a'"}], "mark": {"type": "line", "color": "#000", "strokeWidth": 1.5}},
        {"transform": [{"filter": "datum.s == 't'"}], "mark": {"type": "text", "angle": 315, "align": "left", "baseline": "alphabetic", "dx": 4, "dy": -13, "fontSize": 17, "font": "Liberation Sans", "color": "#000"}, "encoding": {"text": {"field": "lab"}}}
      ],
      "resolve": {"axis": {"x": "independent", "y": "independent"}}
    },
    {
      "width": 338, "height": 224,
      "data": {"name": "si"},
      "encoding": {
        "x": {"field": "e", "type": "quantitative", "scale": {"domain": [1.4394, 2.0416], "nice": false, "zero": false}, "axis": null},
        "y": {"field": "c", "type": "quantitative", "scale": {"domain": [0, 1300], "nice": false, "zero": false}, "axis": null}
      },
      "layer": [
        {"transform": [{"filter": "datum.s == 'b'"}], "mark": {"type": "line", "color": "#1874c4", "strokeWidth": 2, "clip": true},
         "encoding": {
           "x": {"field": "e", "type": "quantitative", "scale": {"domain": [1.4394, 2.0416], "nice": false, "zero": false},
                 "axis": {"title": ["keV", "Silicon"], "values": [1.5, 1.6, 1.7, 1.8, 1.9, 2], "format": "~g"}},
           "y": {"field": "c", "type": "quantitative", "scale": {"domain": [0, 1300], "nice": false, "zero": false},
                 "axis": {"title": "counts", "values": [0, 400, 800, 1200], "format": "d"}}}},
        {"transform": [{"filter": "datum.s == 'f'"}], "mark": {"type": "line", "color": "#0f9a3c", "strokeWidth": 2, "interpolate": "monotone", "clip": true},
         "encoding": {
           "x": {"field": "e", "type": "quantitative", "scale": {"domain": [1.4394, 2.0416], "nice": false, "zero": false},
                 "axis": {"orient": "bottom", "title": null, "tickCount": 60, "labels": false, "domain": false, "tickSize": 7, "tickWidth": 1.5}},
           "y": {"field": "c", "type": "quantitative", "scale": {"domain": [0, 1300], "nice": false, "zero": false},
                 "axis": {"orient": "left", "title": null, "values": [50, 100, 150, 200, 250, 300, 350, 450, 500, 550, 600, 650, 700, 750, 850, 900, 950, 1000, 1050, 1100, 1150, 1250, 1300], "labels": false, "domain": false, "tickSize": 10, "tickWidth": 1.5}}}},
        {"transform": [{"filter": "datum.s == 'm'"}], "mark": {"type": "line", "color": "#000", "strokeWidth": 2, "clip": true}},
        {"transform": [{"filter": "datum.s == 'r'"}], "mark": {"type": "rule", "color": "#ff0000", "strokeWidth": 2}, "encoding": {"y2": {"field": "c2"}}},
        {"transform": [{"filter": "datum.s == 'a'"}], "mark": {"type": "line", "color": "#000", "strokeWidth": 1.5}},
        {"transform": [{"filter": "datum.s == 't'"}], "mark": {"type": "text", "angle": 315, "align": "left", "baseline": "alphabetic", "dx": 4, "dy": -13, "fontSize": 17, "font": "Liberation Sans", "color": "#000"}, "encoding": {"text": {"field": "lab"}}}
      ],
      "resolve": {"axis": {"x": "independent", "y": "independent"}}
    }
  ],
  "config": {
    "font": "Liberation Sans",
    "view": {"stroke": null},
    "axis": {
      "labelFont": "Liberation Sans", "titleFont": "Liberation Sans",
      "labelFontSize": 19, "titleFontSize": 25, "titleFontWeight": "normal",
      "labelColor": "#000", "titleColor": "#000", "domainColor": "#000", "tickColor": "#000",
      "domainWidth": 2, "tickWidth": 2, "grid": false,
      "labelFlush": false, "labelOverlap": false, "labelBound": false
    },
    "axisX": {"tickSize": 16, "labelPadding": 4, "labelBaseline": "top", "labelAlign": "center", "labelAngle": 0, "titleY": 68, "titleBaseline": "alphabetic", "titleLineHeight": 29},
    "axisY": {"tickSize": 17, "labelPadding": 3, "labelAngle": 270, "labelAlign": "center", "labelBaseline": "alphabetic", "titleX": -84, "titleBaseline": "middle", "titleAngle": 270}
  }
}
